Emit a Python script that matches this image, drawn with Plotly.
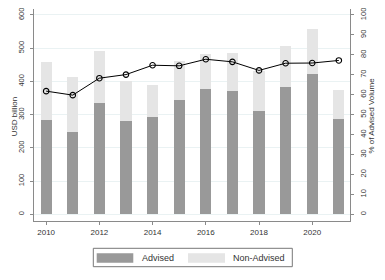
import plotly.graph_objects as go

years = [2010, 2011, 2012, 2013, 2014, 2015, 2016, 2017, 2018, 2019, 2020, 2021]
advised = [283, 248, 336, 282, 293, 345, 377, 372, 310, 384, 423, 288]
non_advised = [175, 166, 156, 120, 97, 117, 106, 114, 120, 123, 134, 85]
pct_advised = [61.8, 59.8, 68.3, 70.1, 74.8, 74.5, 77.8, 76.5, 72.2, 75.8, 75.9, 77.2]
left_ticks = [0, 100, 200, 300, 400, 500, 600]
right_ticks = [0, 10, 20, 30, 40, 50, 60, 70, 80, 90, 100]
x_ticks = [2010, 2012, 2014, 2016, 2018, 2020]

W, H = 385, 280
L, R, T, B = 34, 35, 9, 59
pw, ph = W - L - R, H - T - B

def px(x):
    return (x - L) / pw

def py(y):
    return (H - B - y) / ph

FONT = "Liberation Sans, Arial, sans-serif"
C_ADV = "#999999"
C_NON = "#e5e5e5"
AX = "#8a8a8a"
TXT = "#333333"

fig = go.Figure()
fig.add_trace(go.Bar(x=years, y=advised, name="Advised", marker=dict(color=C_ADV, line=dict(width=0)),
                     width=0.42, showlegend=False))
fig.add_trace(go.Bar(x=years, y=non_advised, name="Non-Advised", marker=dict(color=C_NON, line=dict(width=0)),
                     width=0.42, showlegend=False))
fig.add_trace(go.Scatter(x=years, y=pct_advised, yaxis="y2", mode="lines+markers",
                         line=dict(color="black", width=1),
                         marker=dict(symbol="circle-open", size=5.5, color="black", line=dict(width=1.1)),
                         showlegend=False))

fig.update_layout(
    width=W, height=H, barmode="stack",
    margin=dict(l=L, r=R, t=T, b=B, pad=0),
    paper_bgcolor="white", plot_bgcolor="white",
    font=dict(family=FONT, size=8, color=TXT),
    xaxis=dict(range=[2009.543, 2021.42], tickvals=x_ticks, ticks="outside", ticklen=3,
               tickcolor=AX, showline=True, linecolor=AX, linewidth=1.2, showgrid=False,
               zeroline=False, automargin=False, ticklabelstandoff=0,
               tickfont=dict(size=8, color=TXT)),
    yaxis=dict(range=[-20, 618], tickvals=left_ticks, ticks="outside", ticklen=3, tickcolor=AX,
               showline=True, linecolor=AX, linewidth=1.2, showgrid=True, gridcolor="#eaf2f3",
               gridwidth=1, zeroline=False, tickangle=-90, automargin=False, ticklabelstandoff=3,
               tickfont=dict(size=7.5, color=TXT)),
    yaxis2=dict(range=[-20 / 6, 103], tickvals=right_ticks, overlaying="y", side="right",
                ticks="outside", ticklen=3, tickcolor=AX, showline=True, linecolor=AX, linewidth=1.2,
                showgrid=False, zeroline=False, tickangle=-90, automargin=False, ticklabelstandoff=3,
                tickfont=dict(size=7.5, color=TXT)),
)

# axis titles
fig.add_annotation(xref="paper", yref="paper", x=px(14.3), y=py(116), text="USD billion", showarrow=False,
                   textangle=-90, xanchor="center", yanchor="middle", font=dict(size=8, color=TXT))
fig.add_annotation(xref="paper", yref="paper", x=px(370.5), y=py(115), text="% of Advised Volume",
                   showarrow=False, textangle=-90, xanchor="center", yanchor="middle",
                   font=dict(size=8, color=TXT))

# custom legend
shapes = [
    dict(type="rect", xref="paper", yref="paper", x0=px(93.3), x1=px(292.3), y0=py(266.7), y1=py(248.3),
         line=dict(color="#777777", width=1), fillcolor="white", layer="above"),
    dict(type="rect", xref="paper", yref="paper", x0=px(96.7), x1=px(133.3), y0=py(262.7), y1=py(253.3),
         line=dict(width=0), fillcolor=C_ADV, layer="above"),
    dict(type="rect", xref="paper", yref="paper", x0=px(188), x1=px(225), y0=py(262.7), y1=py(253.3),
         line=dict(width=0), fillcolor=C_NON, layer="above"),
]
fig.update_layout(shapes=shapes)
fig.add_annotation(xref="paper", yref="paper", x=px(139.5), y=py(258), text="Advised", showarrow=False,
                   xanchor="left", yanchor="middle", font=dict(size=9, color=TXT))
fig.add_annotation(xref="paper", yref="paper", x=px(230.5), y=py(258), text="Non-Advised", showarrow=False,
                   xanchor="left", yanchor="middle", font=dict(size=9, color=TXT))

fig.write_html("out.html", config={"displayModeBar": False},
               post_script="document.body.style.margin='0';document.body.style.overflow='hidden';")
